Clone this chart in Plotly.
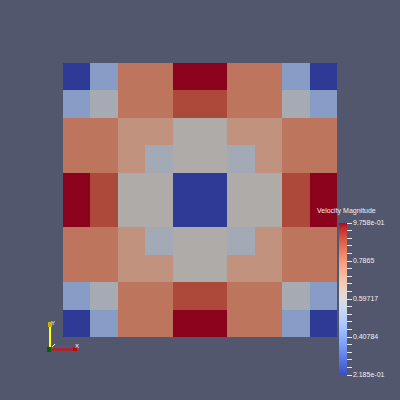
import plotly.graph_objects as go

# ---- data ----
row0 = [0.2185, 0.479, 0.794, 0.794, 0.9758, 0.9758, 0.794, 0.794, 0.479, 0.2185]
row1 = [0.479, 0.574, 0.794, 0.794, 0.885, 0.885, 0.794, 0.794, 0.574, 0.479]
row2 = [0.794, 0.794, 0.716, 0.716, 0.606, 0.606, 0.716, 0.716, 0.794, 0.794]
row3 = [0.794, 0.794, 0.716, 0.566, 0.606, 0.606, 0.566, 0.716, 0.794, 0.794]
row4 = [0.9758, 0.885, 0.606, 0.606, 0.2185, 0.2185, 0.606, 0.606, 0.885, 0.9758]
row5 = [0.9758, 0.885, 0.606, 0.606, 0.2185, 0.2185, 0.606, 0.606, 0.885, 0.9758]
row6 = [0.794, 0.794, 0.716, 0.566, 0.606, 0.606, 0.566, 0.716, 0.794, 0.794]
row7 = [0.794, 0.794, 0.716, 0.716, 0.606, 0.606, 0.716, 0.716, 0.794, 0.794]
row8 = [0.479, 0.574, 0.794, 0.794, 0.885, 0.885, 0.794, 0.794, 0.574, 0.479]
row9 = [0.2185, 0.479, 0.794, 0.794, 0.9758, 0.9758, 0.794, 0.794, 0.479, 0.2185]
z_rows = [row0, row1, row2, row3, row4, row5, row6, row7, row8, row9]

zmin = 0.21850
zmax = 0.97584
tick_labels = ["2.185e-01", "0.40784", "0.59717", "0.7865", "9.758e-01"]
colorbar_title = "Velocity Magnitude"

# Cool to Warm table
ctw = [
    (59, 76, 192), (68, 90, 204), (77, 104, 215), (87, 117, 225), (98, 130, 234),
    (108, 142, 241), (119, 154, 247), (130, 165, 251), (141, 176, 254), (152, 185, 255),
    (163, 194, 255), (174, 201, 253), (184, 208, 249), (194, 213, 244), (204, 217, 238),
    (213, 219, 230), (221, 221, 221), (229, 216, 209), (236, 211, 197), (241, 204, 185),
    (245, 196, 173), (247, 187, 160), (247, 177, 148), (247, 166, 135), (244, 154, 123),
    (241, 141, 111), (236, 127, 99), (229, 112, 88), (222, 96, 77), (213, 80, 66),
    (203, 62, 56), (192, 40, 47), (180, 4, 38),
]
n = len(ctw) - 1
bright_scale = [[i / n, "rgb(%d,%d,%d)" % c] for i, c in enumerate(ctw)]
k = 0.78
shaded_scale = [[i / n, "rgb(%d,%d,%d)" % tuple(round(v * k) for v in c)] for i, c in enumerate(ctw)]

W = H = 400
L, T, S = 63, 63, 274  # plot area in px


def px(x):
    return (x - L) / S


def py(y):
    return (T + S - y) / S


fig = go.Figure()
fig.add_trace(go.Heatmap(
    z=z_rows, zmin=zmin, zmax=zmax, colorscale=shaded_scale, showscale=False,
    hoverinfo="skip", xgap=0, ygap=0,
))

ntick = 21
tickvals = [zmin + (zmax - zmin) * i / (ntick - 1) for i in range(ntick)]
ticktext = [tick_labels[i // 5] if i % 5 == 0 else "" for i in range(ntick)]

fig.add_trace(go.Scatter(
    x=[None], y=[None], mode="markers", hoverinfo="skip", showlegend=False,
    marker=dict(
        color=[zmin, zmax], cmin=zmin, cmax=zmax, colorscale=bright_scale, showscale=True,
        colorbar=dict(
            x=px(339), xanchor="left", xpad=0,
            y=py(299), yanchor="middle", ypad=0,
            len=152, lenmode="pixels", thickness=8, thicknessmode="pixels",
            outlinewidth=0,
            tickmode="array", tickvals=tickvals, ticktext=ticktext,
            ticks="outside", ticklen=5, tickwidth=1, tickcolor="#e8e8e8",
            tickfont=dict(family="Liberation Sans", size=7, color="#f0f0f0"),
        ),
    ),
))

annotations = [
    dict(x=px(315), y=py(211), xref="paper", yref="paper", text=colorbar_title,
         showarrow=False, xanchor="left", yanchor="middle",
         font=dict(family="Liberation Sans", size=7, color="#f0f0f0")),
    dict(x=px(53), y=py(323), xref="paper", yref="paper", text="Y", showarrow=False,
         xanchor="center", yanchor="middle", font=dict(family="Liberation Sans", size=6, color="white")),
    dict(x=px(77), y=py(346), xref="paper", yref="paper", text="X", showarrow=False,
         xanchor="center", yanchor="middle", font=dict(family="Liberation Sans", size=6, color="white")),
]

shapes = [
    # Y axis (yellow)
    dict(type="line", xref="paper", yref="paper", x0=px(50), y0=py(349), x1=px(50), y1=py(327),
         line=dict(color="#ffff00", width=2)),
    dict(type="rect", xref="paper", yref="paper", x0=px(48), y0=py(327), x1=px(52), y1=py(322),
         line=dict(width=0), fillcolor="#c8b400"),
    # X axis (red)
    dict(type="line", xref="paper", yref="paper", x0=px(50), y0=py(349.5), x1=px(74), y1=py(349.5),
         line=dict(color="#ff0000", width=2)),
    dict(type="rect", xref="paper", yref="paper", x0=px(73), y0=py(351), x1=px(77), y1=py(347),
         line=dict(width=0), fillcolor="#d00000"),
    # origin / Z (green)
    dict(type="rect", xref="paper", yref="paper", x0=px(47), y0=py(352), x1=px(51), y1=py(347),
         line=dict(width=0), fillcolor="#006400"),
    dict(type="line", xref="paper", yref="paper", x0=px(52), y0=py(347), x1=px(55), y1=py(344),
         line=dict(color="white", width=1)),
]

fig.update_layout(
    width=W, height=H,
    margin=dict(l=L, r=W - L - S, t=T, b=H - T - S, pad=0),
    paper_bgcolor="#52576e", plot_bgcolor="#52576e",
    xaxis=dict(visible=False, range=[-0.5, 9.5], fixedrange=True),
    yaxis=dict(visible=False, range=[9.5, -0.5], fixedrange=True),
    annotations=annotations, shapes=shapes, showlegend=False,
)

fig.write_html("out.html")
